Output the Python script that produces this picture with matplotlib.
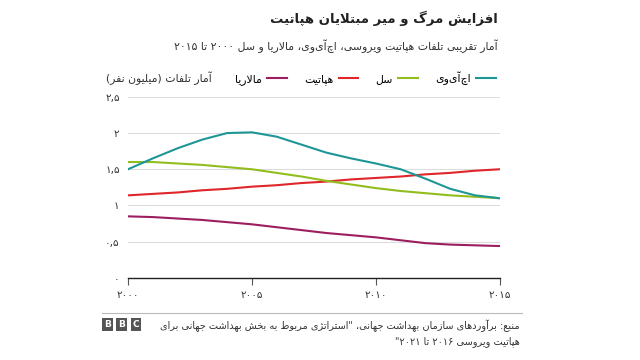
import re
import matplotlib
matplotlib.use("Agg")
import matplotlib.pyplot as plt

# Data (million deaths)
years = list(range(2000, 2016))
hiv = [1.50, 1.65, 1.79, 1.91, 2.00, 2.01, 1.95, 1.84, 1.73, 1.65, 1.58, 1.50, 1.37, 1.23, 1.14, 1.10]
tb = [1.60, 1.60, 1.58, 1.56, 1.53, 1.50, 1.45, 1.40, 1.34, 1.29, 1.24, 1.20, 1.17, 1.14, 1.12, 1.10]
hepatitis = [1.14, 1.16, 1.18, 1.21, 1.23, 1.26, 1.28, 1.31, 1.33, 1.36, 1.38, 1.40, 1.43, 1.45, 1.48, 1.50]
malaria = [0.85, 0.84, 0.82, 0.80, 0.77, 0.74, 0.70, 0.66, 0.62, 0.59, 0.56, 0.52, 0.48, 0.46, 0.45, 0.44]

x_ticks = [2000, 2005, 2010, 2015]
x_tick_labels = ["۲۰۰۰", "۲۰۰۵", "۲۰۱۰", "۲۰۱۵"]
y_ticks = [0, 0.5, 1, 1.5, 2, 2.5]
y_tick_labels = ["۰", "۰,۵", "۱", "۱,۵", "۲", "۲,۵"]

title = "افزایش مرگ و میر مبتلایان هپاتیت"
subtitle = "آمار تقریبی تلفات هپاتیت ویروسی، اچ\u200cآی\u200cوی، مالاریا و سل ۲۰۰۰ تا ۲۰۱۵"
y_label = "آمار تلفات (میلیون نفر)"
names = {"hiv": "اچ\u200cآی\u200cوی", "tb": "سل", "hep": "هپاتیت", "mal": "مالاریا"}
source_1 = "منبع: برآوردهای سازمان بهداشت جهانی، \"استراتژی مربوط به بخش بهداشت جهانی برای"
source_2 = "هپاتیت ویروسی ۲۰۱۶ تا ۲۰۲۱\""

# matplotlib has no arabic shaping, so do it by hand with presentation forms
# (isolated, final, initial, medial)
FORMS = {
    "\u0622": ("\ufe81", "\ufe82", None, None),
    "\u0623": ("\ufe83", "\ufe84", None, None),
    "\u0624": ("\ufe85", "\ufe86", None, None),
    "\u0625": ("\ufe87", "\ufe88", None, None),
    "\u0626": ("\ufe89", "\ufe8a", "\ufe8b", "\ufe8c"),
    "\u0627": ("\ufe8d", "\ufe8e", None, None),
    "\u0628": ("\ufe8f", "\ufe90", "\ufe91", "\ufe92"),
    "\u0629": ("\ufe93", "\ufe94", None, None),
    "\u062a": ("\ufe95", "\ufe96", "\ufe97", "\ufe98"),
    "\u062b": ("\ufe99", "\ufe9a", "\ufe9b", "\ufe9c"),
    "\u062c": ("\ufe9d", "\ufe9e", "\ufe9f", "\ufea0"),
    "\u062d": ("\ufea1", "\ufea2", "\ufea3", "\ufea4"),
    "\u062e": ("\ufea5", "\ufea6", "\ufea7", "\ufea8"),
    "\u062f": ("\ufea9", "\ufeaa", None, None),
    "\u0630": ("\ufeab", "\ufeac", None, None),
    "\u0631": ("\ufead", "\ufeae", None, None),
    "\u0632": ("\ufeaf", "\ufeb0", None, None),
    "\u0633": ("\ufeb1", "\ufeb2", "\ufeb3", "\ufeb4"),
    "\u0634": ("\ufeb5", "\ufeb6", "\ufeb7", "\ufeb8"),
    "\u0635": ("\ufeb9", "\ufeba", "\ufebb", "\ufebc"),
    "\u0636": ("\ufebd", "\ufebe", "\ufebf", "\ufec0"),
    "\u0637": ("\ufec1", "\ufec2", "\ufec3", "\ufec4"),
    "\u0638": ("\ufec5", "\ufec6", "\ufec7", "\ufec8"),
    "\u0639": ("\ufec9", "\ufeca", "\ufecb", "\ufecc"),
    "\u063a": ("\ufecd", "\ufece", "\ufecf", "\ufed0"),
    "\u0641": ("\ufed1", "\ufed2", "\ufed3", "\ufed4"),
    "\u0642": ("\ufed5", "\ufed6", "\ufed7", "\ufed8"),
    "\u0644": ("\ufedd", "\ufede", "\ufedf", "\ufee0"),
    "\u0645": ("\ufee1", "\ufee2", "\ufee3", "\ufee4"),
    "\u0646": ("\ufee5", "\ufee6", "\ufee7", "\ufee8"),
    "\u0647": ("\ufee9", "\ufeea", "\ufeeb", "\ufeec"),
    "\u0648": ("\ufeed", "\ufeee", None, None),
    "\u067e": ("\ufb56", "\ufb57", "\ufb58", "\ufb59"),
    "\u0686": ("\ufb7a", "\ufb7b", "\ufb7c", "\ufb7d"),
    "\u0698": ("\ufb8a", "\ufb8b", None, None),
    "\u06a9": ("\ufb8e", "\ufb8f", "\ufb90", "\ufb91"),
    "\u06af": ("\ufb92", "\ufb93", "\ufb94", "\ufb95"),
    "\u06cc": ("\ufbfc", "\ufbfd", "\ufbfe", "\ufbff"),
}
LAM_ALEF = {"\u0627": ("\ufefb", "\ufefc"), "\u0622": ("\ufef5", "\ufef6"),
            "\u0623": ("\ufef7", "\ufef8"), "\u0625": ("\ufef9", "\ufefa")}


def joins_left(c):
    return c in FORMS and FORMS[c][2] is not None


def fa(text):
    text = text.replace("\u064a", "\u06cc").replace("\u0643", "\u06a9")
    out = []
    i = 0
    n = len(text)
    while i < n:
        c = text[i]
        prev = text[i - 1] if i > 0 else ""
        nxt = text[i + 1] if i + 1 < n else ""
        after_join = joins_left(prev)
        if c not in FORMS:
            out.append(c)
            i += 1
            continue
        if c == "\u0644" and nxt in LAM_ALEF:
            out.append(LAM_ALEF[nxt][1 if after_join else 0])
            i += 2
            continue
        f = FORMS[c]
        before_join = f[2] is not None and nxt in FORMS
        if after_join and before_join:
            out.append(f[3])
        elif after_join:
            out.append(f[1])
        elif before_join:
            out.append(f[2])
        else:
            out.append(f[0])
        i += 1
    s = "".join(out).replace("\u200c", "")[::-1]
    s = re.sub(r"[0-9\u06f0-\u06f9]+", lambda m: m.group(0)[::-1], s)
    return s.translate(str.maketrans("()", ")("))


plt.rcParams["font.family"] = ["DejaVu Sans"]

fig = plt.figure(figsize=(6.4, 3.6), dpi=100)
ax = fig.add_axes([0.2, 0.228, 0.581, 0.503])

ax.plot(years, malaria, color="#9c1e5e", lw=1.5, label=fa(names["mal"]))
ax.plot(years, hepatitis, color="#e0252b", lw=1.5, label=fa(names["hep"]))
ax.plot(years, tb, color="#92bd1f", lw=1.5, label=fa(names["tb"]))
ax.plot(years, hiv, color="#1f9696", lw=1.5, label=fa(names["hiv"]))

ax.set_xlim(2000, 2015)
ax.set_ylim(0, 2.5)
ax.set_xticks(x_ticks)
ax.set_xticklabels(x_tick_labels, fontsize=7.5, color="#333333")
ax.set_yticks(y_ticks)
ax.set_yticklabels(y_tick_labels, fontsize=7.5, color="#333333")
ax.tick_params(axis="y", length=0, pad=6)
ax.tick_params(axis="x", length=5, width=0.8, color="#555555", pad=4)
ax.grid(axis="y", color="#dddddd", lw=0.8)
ax.set_axisbelow(True)
for side in ["top", "right", "left"]:
    ax.spines[side].set_visible(False)
ax.spines["bottom"].set_color("#222222")
ax.spines["bottom"].set_linewidth(1.0)

leg = ax.legend(loc="lower right", bbox_to_anchor=(1.0, 1.04), ncol=4, frameon=False,
                markerfirst=False, fontsize=7.8, handlelength=1.8, columnspacing=1.6,
                handletextpad=0.5, borderaxespad=0)

fig.text(0.777, 0.95, fa(title), ha="right", va="center", fontsize=9.5, fontweight="bold", color="#222222")
fig.text(0.777, 0.872, fa(subtitle), ha="right", va="center", fontsize=7.8, color="#333333")
fig.text(0.165, 0.783, fa(y_label), ha="left", va="center", fontsize=7.8, color="#333333")

# footer
fig.add_artist(plt.Line2D([0.16, 0.815], [0.13, 0.13], color="#bbbbbb", lw=0.8))
fig.text(0.812, 0.096, fa(source_1), ha="right", va="center", fontsize=7, color="#333333")
fig.text(0.812, 0.05, fa(source_2), ha="right", va="center", fontsize=7, color="#333333")
for k, letter in enumerate("BBC"):
    fig.text(0.168 + k * 0.022, 0.099, letter, ha="center", va="center", fontsize=6.5,
             fontweight="bold", color="white",
             bbox=dict(boxstyle="square,pad=0.2", facecolor="#555555", edgecolor="none"))

fig.savefig("out.png", dpi=100)
